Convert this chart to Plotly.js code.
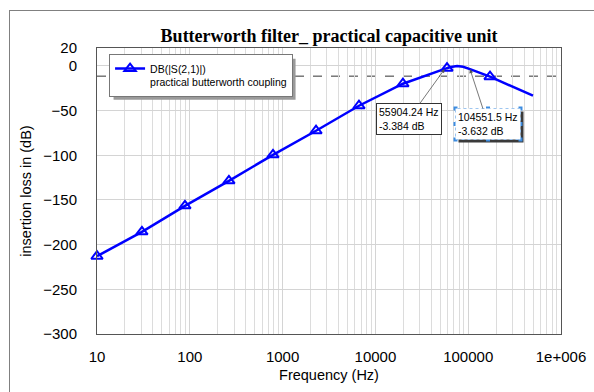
<!DOCTYPE html>
<html>
<head>
<meta charset="utf-8">
<script src="https://cdn.plot.ly/plotly-3.0.1.min.js"></script>
<style>
html,body{margin:0;padding:0;background:#fff;overflow:hidden;}
#frame{position:absolute;left:9px;top:10px;width:620px;height:420px;border:1px solid #808080;}
#chart{position:absolute;left:0;top:0;width:594px;height:392px;}
</style>
</head>
<body>
<div id="frame"></div>
<div id="chart"></div>
<script>
// Curve: insertion loss (dB) vs frequency (Hz)
const curveFreq = [10, 30.5, 88.7, 264, 788, 2292, 6653, 19800, 55904.24, 59100, 65000, 76000, 88000, 104551.5, 171800, 499000];
const curveDB   = [-213, -185.7, -156.6, -128.6, -99.5, -72.6, -44.6, -20.0, -3.384, -2.6, -1.2, -0.2, -1.0, -3.632, -12.1, -33.4];
// Marker points along the curve
const markerFreq = [10, 30.5, 88.7, 264, 788, 2292, 6653, 19800, 59100, 171800];
const markerDB   = [-213, -185.7, -156.6, -128.6, -99.5, -72.6, -44.6, -20.0, -2.6, -12.1];
// Cursor readouts
const cursorFreq = [55904.24, 104551.5];
const cursorDB   = [-3.384, -3.632];
const cursorText = ['55904.24 Hz<br>-3.384 dB', '104551.5 Hz<br>-3.632 dB'];
const refLevel = -11.5;
const xTickVals = [10, 100, 1000, 10000, 100000, 1000000];
const xTickText = ['10', '100', '1000', '10000', '100000', '1e+006'];
const yTickVals = [20, 0, -50, -100, -150, -200, -250, -300];
const traceName = 'DB(|S(2,1)|)<br>practical butterworth coupling';

const blue = '#0000ff';
const traces = [
  {x: curveFreq, y: curveDB, mode: 'lines', line: {color: blue, width: 2.5}, showlegend: false, hoverinfo: 'skip'},
  {x: markerFreq, y: markerDB, mode: 'markers', marker: {symbol: 'triangle-up-open', size: 10, color: blue, line: {width: 2, color: blue}}, showlegend: false, cliponaxis: false},
  {x: [null], y: [null], mode: 'lines+markers', name: traceName, line: {color: blue, width: 2.5}, marker: {symbol: 'triangle-up-open', size: 10, color: blue, line: {width: 2, color: blue}}}
];

const annFont = {family: 'Arial, Liberation Sans, sans-serif', size: 10.5, color: '#000'};
const offsets = [[-36, 50], [18, 55]];
const annotations = cursorFreq.map((f, i) => ({
  x: Math.log10(f), y: cursorDB[i], xref: 'x', yref: 'y',
  text: cursorText[i],
  showarrow: true, ax: offsets[i][0], ay: offsets[i][1],
  arrowhead: 2, arrowsize: 1, arrowwidth: 0.8, arrowcolor: '#555',
  align: 'left', font: annFont, bgcolor: '#fff',
  bordercolor: i === 0 ? '#333' : 'rgba(0,0,0,0)', borderwidth: 1, borderpad: 2
}));

const layout = {
  width: 594, height: 392,
  margin: {l: 97, r: 33, t: 48, b: 58},
  paper_bgcolor: 'rgba(0,0,0,0)', plot_bgcolor: '#fff',
  font: {family: 'Arial, Liberation Sans, sans-serif', color: '#000'},
  title: {text: 'Butterworth filter_ practical capacitive unit', font: {family: 'Liberation Serif, Times New Roman, serif', size: 18, weight: 'bold', color: '#000'}, x: 0.554, xanchor: 'center', y: 0.91, yanchor: 'middle'},
  xaxis: {
    type: 'log', range: [1, 6], tickvals: xTickVals, ticktext: xTickText,
    showgrid: true, gridcolor: '#d4d4d4', gridwidth: 1,
    minor: {dtick: 'D1', showgrid: true, gridcolor: '#dcdcdc', gridwidth: 1},
    showline: true, mirror: true, linecolor: '#555', linewidth: 1,
    ticks: '', ticklabelstandoff: 9, tickfont: {size: 15},
    title: {text: 'Frequency (Hz)', font: {size: 14.5}, standoff: 5},
    zeroline: false
  },
  yaxis: {
    range: [-300, 20], tickvals: yTickVals,
    showgrid: true, gridcolor: '#d4d4d4', gridwidth: 1,
    showline: true, mirror: true, linecolor: '#555', linewidth: 1,
    ticks: '', ticklabelstandoff: 16, tickfont: {size: 15},
    title: {text: 'insertion loss in (dB)', font: {size: 14.5}, standoff: 8},
    zeroline: false
  },
  legend: {x: 0.026, y: 0.978, xanchor: 'left', yanchor: 'top', bgcolor: '#fff', bordercolor: '#777', borderwidth: 1,
    font: {size: 10.5}, valign: 'top', itemwidth: 30, tracegroupgap: 0},
  shapes: [
    {type: 'line', xref: 'paper', x0: 0, x1: 1, yref: 'y', y0: refLevel, y1: refLevel, line: {color: '#333', width: 1, dash: 'dash'}, layer: 'below'}
  ],
  annotations: annotations
};

const gd = document.getElementById('chart');
Plotly.newPlot(gd, traces, layout, {displayModeBar: false, staticPlot: true}).then(() => {
  // decorations: drop shadows and selection outline (measured from rendered boxes)
  const sz = gd._fullLayout._size;
  const box = gd.getBoundingClientRect();
  const toPaper = r => ({
    x0: (r.left - box.left - sz.l) / sz.w, x1: (r.right - box.left - sz.l) / sz.w,
    y0: 1 - (r.bottom - box.top - sz.t) / sz.h, y1: 1 - (r.top - box.top - sz.t) / sz.h
  });
  const px = 1 / sz.w, py = 1 / sz.h;
  const shapes = layout.shapes.slice();
  const leg = gd.querySelector('.legend .bg');
  if (leg) {
    const p = toPaper(leg.getBoundingClientRect());
    shapes.push({type: 'rect', xref: 'paper', yref: 'paper', x0: p.x0 + 4 * px, x1: p.x1 + 3 * px, y0: p.y0 - 3 * py, y1: p.y1 - 4 * py, fillcolor: '#9a9a9a', line: {width: 0}, layer: 'above'});
  }
  const anns = gd.querySelectorAll('.annotation-text-g rect.bg');
  const extraAnns = [];
  if (anns.length > 1) {
    const p = toPaper(anns[1].getBoundingClientRect());
    shapes.push({type: 'rect', xref: 'paper', yref: 'paper', x0: p.x0 + 3 * px, x1: p.x1 + 3 * px, y0: p.y0 - 3 * py, y1: p.y1 - 3 * py, fillcolor: '#3a3a3a', line: {width: 0}, layer: 'above'});
  }
  Plotly.relayout(gd, {shapes: shapes}).then(() => {
    // selection outline with handles drawn after, on top
    if (anns.length > 1) {
      const p = toPaper(gd.querySelectorAll('.annotation-text-g rect.bg')[1].getBoundingClientRect());
      const s2 = gd.layout.shapes.slice();
      s2.push({type: 'rect', xref: 'paper', yref: 'paper', x0: p.x0, x1: p.x1, y0: p.y0, y1: p.y1, line: {color: '#3c8ce0', width: 1, dash: 'dot'}, layer: 'above'});
      const xs = [p.x0, (p.x0 + p.x1) / 2, p.x1], ys = [p.y0, (p.y0 + p.y1) / 2, p.y1];
      xs.forEach((hx, i) => ys.forEach((hy, j) => {
        if (i === 1 && j === 1) return;
        s2.push({type: 'rect', xref: 'paper', yref: 'paper', x0: hx - 2 * px, x1: hx + 2 * px, y0: hy - 2 * py, y1: hy + 2 * py, fillcolor: '#3c8ce0', line: {width: 0}, layer: 'above'});
      }));
      Plotly.relayout(gd, {shapes: s2});
    }
  });
});
</script>
</body>
</html>
